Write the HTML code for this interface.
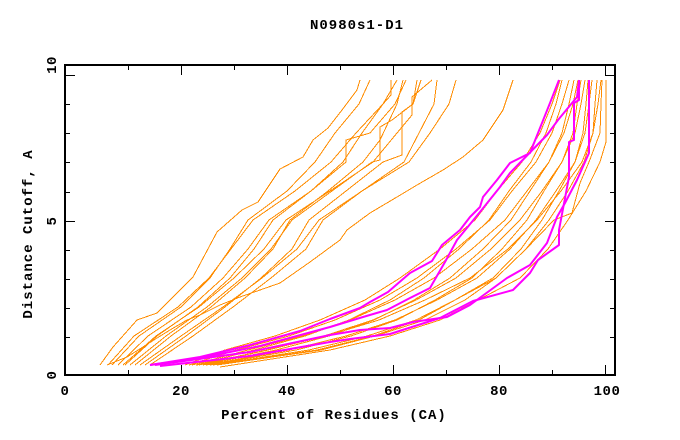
<!DOCTYPE html>
<html><head><meta charset="utf-8"><style>
html,body{margin:0;padding:0;background:#fff;}
svg{display:block;}
text{font-family:"Liberation Mono","DejaVu Sans Mono",monospace;font-weight:bold;fill:#000;}
</style></head><body>
<svg width="680" height="440" viewBox="0 0 680 440" xmlns="http://www.w3.org/2000/svg">
<rect x="0" y="0" width="680" height="440" fill="#fff"/>
<text x="357" y="29" font-size="14" letter-spacing="1" text-anchor="middle">N0980s1-D1</text>
<text x="334" y="419" font-size="14" letter-spacing="1" text-anchor="middle">Percent of Residues (CA)</text>
<text transform="translate(32,234) rotate(-90)" font-size="14" letter-spacing="1" text-anchor="middle">Distance Cutoff, A</text>
<g font-size="14" letter-spacing="0.5" text-anchor="middle">
<text x="65" y="395">0</text>
<text x="181" y="395">20</text>
<text x="287" y="395">40</text>
<text x="393" y="395">60</text>
<text x="499" y="395">80</text>
<text x="607" y="395">100</text>
<text transform="translate(56,375) rotate(-90)">0</text>
<text transform="translate(56,221) rotate(-90)">5</text>
<text transform="translate(56,65) rotate(-90)">10</text>
</g>
<g fill="none" stroke="#ff8c00" stroke-width="1" shape-rendering="crispEdges" stroke-linejoin="round">
<polyline points="100,365 113,347 137,320 157,313 193,277 217,232 242,210 258,202 280,169 303,157 313,140 328,128 342,110 357,90 360,80"/>
<polyline points="112,365 139,336 181,307 210,278 230,249 248,220 287,191 315,162 335,133 359,104 370,80"/>
<polyline points="125,365 157,336 198,307 230,278 254,249 273,220 311,191 343,162 362,133 383,104 391,95 391,80"/>
<polyline points="108,365 134,336 178,307 209,278 231,249 253,220 295,191 331,162 356,133 383,104 397,80"/>
<polyline points="135,365 171,336 211,307 245,278 273,249 290,220 328,191 363,162 380,140 397,104 403,80"/>
<polyline points="118,365 148,336 191,307 223,278 248,249 269,220 311,191 346,162 346,140 370,133 395,104 406,80"/>
<polyline points="145,365 186,336 225,307 261,278 292,249 309,220 346,191 383,162 402,155 402,112 413,104 417,80"/>
<polyline points="130,365 166,336 207,307 242,278 271,249 292,220 332,191 372,162 380,160 380,127 392,120 413,104 421,80"/>
<polyline points="123,365 156,336 199,307 234,278 264,249 286,220 330,191 373,162 397,133 412,115 412,97 432,80"/>
<polyline points="150,365 193,336 233,307 271,278 306,249 323,220 362,191 404,162 419,133 434,104 437,80"/>
<polyline points="140,365 181,336 223,307 262,278 297,249 319,220 362,191 409,162 430,133 449,104 456,80"/>
<polyline points="107,365 127,357 143,347 157,338 170,330 187,320 200,315 220,305 240,297 260,290 280,283 310,262 340,240 347,230 370,213 397,197 417,185 443,170 463,157 483,140 503,110 513,80"/>
<polyline points="185,365 225,350 275,336 320,320 365,300 400,278 440,249 475,220 497,191 522,162 540,133 552,104 560,80"/>
<polyline points="196,365 254,350 305,336 349,320 390,300 424,278 459,249 489,220 509,191 531,162 546,133 556,104 562,80"/>
<polyline points="189,365 236,350 289,336 335,320 380,300 417,278 456,249 490,220 512,191 536,162 552,133 562,104 569,80"/>
<polyline points="203,365 276,350 329,336 374,320 414,300 450,278 483,249 511,220 530,191 549,162 562,133 569,104 574,80"/>
<polyline points="192,365 248,350 302,336 350,320 395,300 434,278 472,249 505,220 527,191 549,162 564,133 573,104 578,80"/>
<polyline points="210,365 296,350 351,336 397,320 435,300 472,278 502,249 527,220 544,191 562,162 573,133 577,104 581,80"/>
<polyline points="199,365 268,350 324,336 373,320 416,300 456,278 491,249 520,220 542,191 562,162 575,133 581,104 585,80"/>
<polyline points="217,365 317,350 373,336 419,320 455,300 493,278 521,249 542,220 559,191 575,162 583,133 586,104 588,80"/>
<polyline points="206,365 289,350 346,336 395,320 437,300 477,278 510,249 536,220 556,191 575,162 585,133 589,104 592,80"/>
<polyline points="213,365 309,350 367,336 416,320 455,300 496,278 526,249 549,220 568,191 584,162 593,133 595,104 597,80"/>
<polyline points="197,365 267,350 326,336 379,320 425,300 470,278 508,249 537,220 561,191 582,162 593,133 598,104 601,80"/>
<polyline points="217,365 321,350 375,336 425,320 465,300 496,278 526,249 554,220 572,213 580,183 589,162 600,133 601,104 602,80"/>
<polyline points="220,367 330,350 390,336 440,320 478,300 520,278 548,249 568,220 586,191 600,162 606,142 606,80"/>
</g>
<g fill="none" stroke="#ff00ff" stroke-width="2" stroke-linejoin="round">
<polyline points="150,365 200,357 250,345 300,331 330,319 360,308 370,302 388,292 410,273 432,261 442,245 460,230 470,217 480,207 483,197 497,180 510,163 530,153 538,133 550,103 559,80"/>
<polyline points="150,365 200,358 260,346 330,327 363,317 387,310 410,298 430,288 445,262 457,240 480,212 500,187 510,173 547,135 558,120 577,97 579,80"/>
<polyline points="155,365 250,352 330,335 360,330 390,328 413,322 447,317 470,305 507,278 530,265 547,243 557,217 565,203 577,180 589,153 589,80"/>
<polyline points="160,366 250,356 330,342 350,339 390,334 440,318 473,301 513,290 530,273 538,260 559,245 559,230 569,177 569,142 574,140 574,103 579,100 579,80"/>
</g>
<g stroke="#000" stroke-width="1" shape-rendering="crispEdges">
<line x1="128.5" y1="375" x2="128.5" y2="370"/>
<line x1="181.5" y1="375" x2="181.5" y2="365"/>
<line x1="234.5" y1="375" x2="234.5" y2="370"/>
<line x1="287.5" y1="375" x2="287.5" y2="365"/>
<line x1="340.5" y1="375" x2="340.5" y2="370"/>
<line x1="393.5" y1="375" x2="393.5" y2="365"/>
<line x1="446.5" y1="375" x2="446.5" y2="370"/>
<line x1="499.5" y1="375" x2="499.5" y2="365"/>
<line x1="552.5" y1="375" x2="552.5" y2="370"/>
<line x1="605.5" y1="375" x2="605.5" y2="365"/>
<line x1="128.5" y1="65" x2="128.5" y2="70"/>
<line x1="181.5" y1="65" x2="181.5" y2="75"/>
<line x1="234.5" y1="65" x2="234.5" y2="70"/>
<line x1="287.5" y1="65" x2="287.5" y2="75"/>
<line x1="340.5" y1="65" x2="340.5" y2="70"/>
<line x1="393.5" y1="65" x2="393.5" y2="75"/>
<line x1="446.5" y1="65" x2="446.5" y2="70"/>
<line x1="499.5" y1="65" x2="499.5" y2="75"/>
<line x1="552.5" y1="65" x2="552.5" y2="70"/>
<line x1="605.5" y1="65" x2="605.5" y2="75"/>
<line x1="65" y1="337.5" x2="70" y2="337.5"/>
<line x1="65" y1="308.5" x2="70" y2="308.5"/>
<line x1="65" y1="279.5" x2="70" y2="279.5"/>
<line x1="65" y1="250.5" x2="70" y2="250.5"/>
<line x1="65" y1="221.5" x2="75" y2="221.5"/>
<line x1="65" y1="192.5" x2="70" y2="192.5"/>
<line x1="65" y1="162.5" x2="70" y2="162.5"/>
<line x1="65" y1="133.5" x2="70" y2="133.5"/>
<line x1="65" y1="104.5" x2="70" y2="104.5"/>
<line x1="65" y1="75.5" x2="75" y2="75.5"/>
<line x1="615" y1="337.5" x2="610" y2="337.5"/>
<line x1="615" y1="308.5" x2="610" y2="308.5"/>
<line x1="615" y1="279.5" x2="610" y2="279.5"/>
<line x1="615" y1="250.5" x2="610" y2="250.5"/>
<line x1="615" y1="221.5" x2="605" y2="221.5"/>
<line x1="615" y1="192.5" x2="610" y2="192.5"/>
<line x1="615" y1="162.5" x2="610" y2="162.5"/>
<line x1="615" y1="133.5" x2="610" y2="133.5"/>
<line x1="615" y1="104.5" x2="610" y2="104.5"/>
<line x1="615" y1="75.5" x2="605" y2="75.5"/>
</g>
<rect x="65" y="65" width="550" height="310" fill="none" stroke="#000" stroke-width="2" shape-rendering="crispEdges"/>
</svg>
</body></html>
